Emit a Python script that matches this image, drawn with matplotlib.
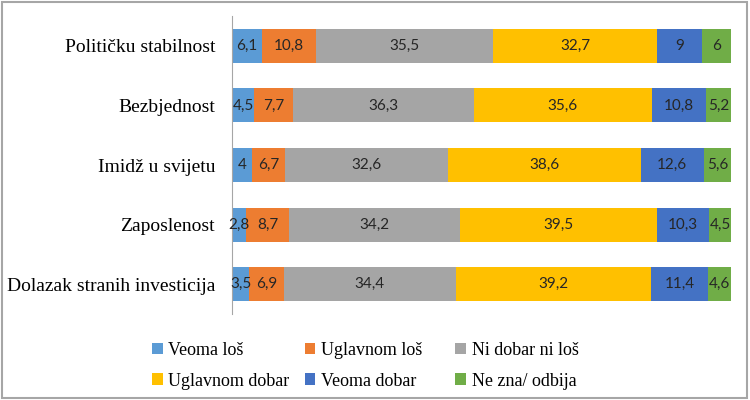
import numpy as np
import matplotlib
matplotlib.use('Agg')
import matplotlib.pyplot as plt
from matplotlib.patches import Rectangle

categories = ['Političku stabilnost', 'Bezbjednost', 'Imidž u svijetu',
              'Zaposlenost', 'Dolazak stranih investicija']
series = ['Veoma loš', 'Uglavnom loš', 'Ni dobar ni loš',
          'Uglavnom dobar', 'Veoma dobar', 'Ne zna/ odbija']
veoma_los = [6.1, 4.5, 4, 2.8, 3.5]
uglavnom_los = [10.8, 7.7, 6.7, 8.7, 6.9]
ni_dobar = [35.5, 36.3, 32.6, 34.2, 34.4]
uglavnom_dobar = [32.7, 35.6, 38.6, 39.5, 39.2]
veoma_dobar = [9, 10.8, 12.6, 10.3, 11.4]
ne_zna = [6, 5.2, 5.6, 4.5, 4.6]
colors = ['#5B9BD5', '#ED7D31', '#A5A5A5', '#FFC000', '#4472C4', '#70AD47']

values = [veoma_los, uglavnom_los, ni_dobar, uglavnom_dobar, veoma_dobar, ne_zna]

fig = plt.figure(figsize=(7.5, 4), dpi=100)
ax = fig.add_axes([0.309, 0.215, 0.666, 0.745])

y = np.arange(len(categories))[::-1]
left = np.zeros(len(categories))
handles = []
for name, vals, col in zip(series, values, colors):
    vals = np.array(vals)
    bars = ax.barh(y, vals, left=left, height=0.57, color=col, label=name)
    handles.append(bars)
    labels = [('%g' % v).replace('.', ',') for v in vals]
    ax.bar_label(bars, labels=labels, label_type='center',
                 fontsize=11, color='#262626', family='Lato')
    left += vals

ax.set_xlim(0, 100)
ax.set_ylim(-0.5, 4.5)
ax.set_yticks(y)
ax.set_yticklabels(categories, family='Liberation Serif', fontsize=14)
ax.tick_params(axis='y', length=0, pad=12)
ax.set_xticks([])
for s in ['top', 'right', 'bottom']:
    ax.spines[s].set_visible(False)
ax.spines['left'].set_color('#A6A6A6')

# legend: three fixed-width columns, filled row by row
col_x = [0.203, 0.406, 0.607]
for c, x0 in enumerate(col_x):
    idx = [c, c + 3]
    lg = fig.legend(handles=[handles[i] for i in idx],
                    labels=[series[i] for i in idx], loc='upper left',
                    bbox_to_anchor=(x0, 0.145), frameon=False,
                    prop={'family': 'Liberation Serif', 'size': 13},
                    handlelength=0.6, handleheight=0.6, handletextpad=0.3,
                    labelspacing=0.75, borderpad=0, borderaxespad=0)

fig.patches.append(Rectangle((0.002, 0.004), 0.994, 0.992, transform=fig.transFigure,
                             fill=False, edgecolor='#A6A6A6', linewidth=1.5))

fig.savefig('out.png', dpi=100)
